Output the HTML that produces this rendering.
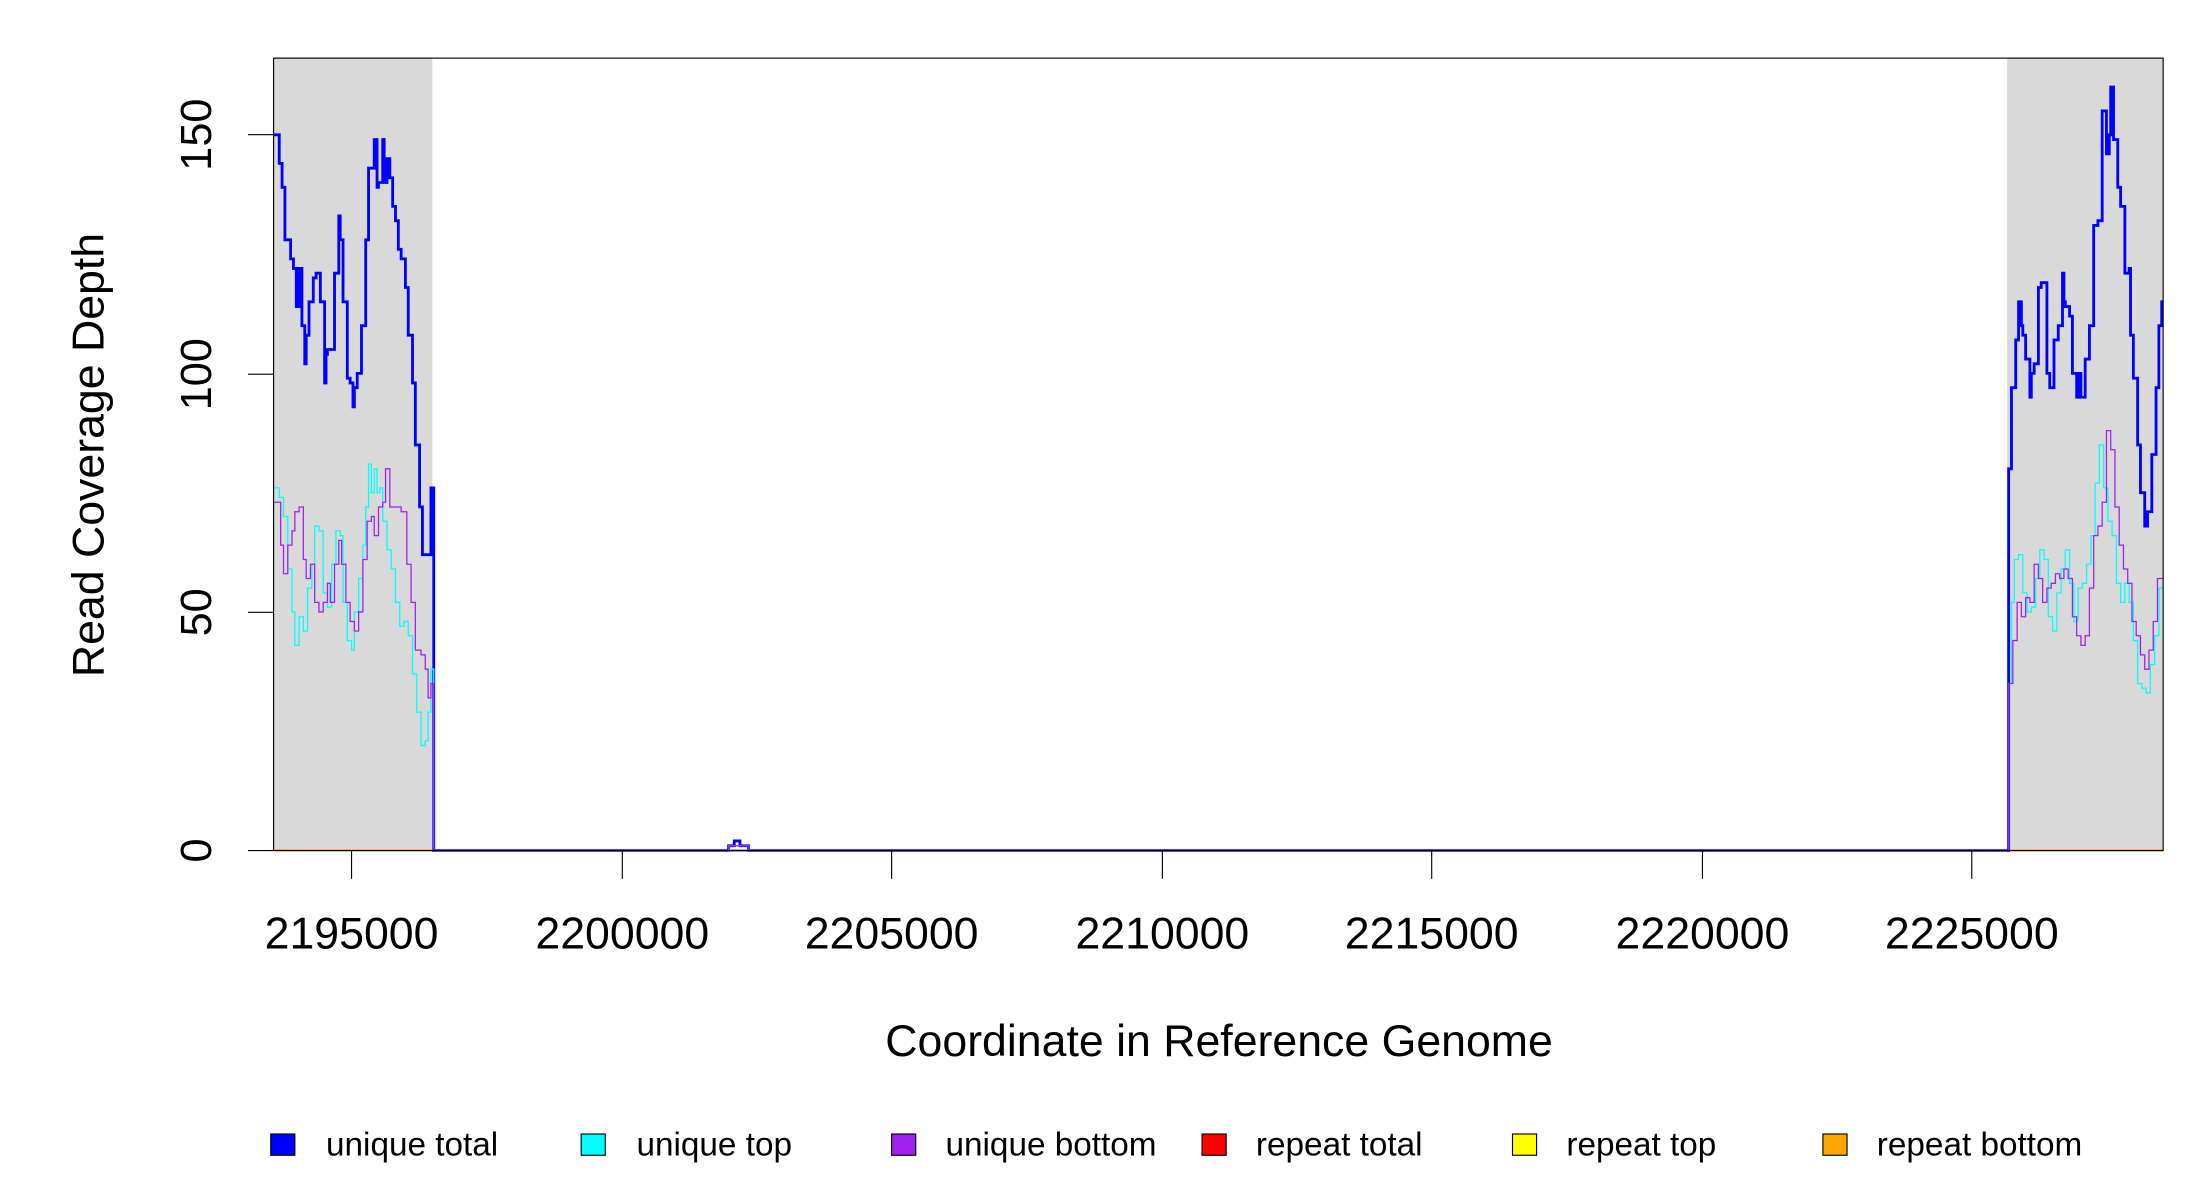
<!DOCTYPE html>
<html><head><meta charset="utf-8"><style>
html,body{margin:0;padding:0;background:#fff;width:2200px;height:1200px;overflow:hidden}
svg{display:block}
text{font-family:"Liberation Sans",sans-serif;fill:#000}
</style></head><body>
<svg id="s" width="2200" height="1200" viewBox="0 0 1552 846.55" preserveAspectRatio="none" xmlns="http://www.w3.org/2000/svg">
<rect x="193" y="41" width="112" height="559" fill="#d9d9d9"/>
<rect x="1416" y="41" width="110" height="559" fill="#d9d9d9"/>
<line x1="193" y1="600" x2="305" y2="600" stroke="#ffa500" stroke-width="1.5"/>
<line x1="1416" y1="600" x2="1526" y2="600" stroke="#ffa500" stroke-width="1.5"/>
<g id="series"></g>
<rect x="193" y="41" width="1333" height="559" fill="none" stroke="#000" stroke-width="0.8"/>
<g stroke="#000" stroke-width="0.8">
<line x1="175" y1="600" x2="193" y2="600"/><line x1="175" y1="432" x2="193" y2="432"/>
<line x1="175" y1="264" x2="193" y2="264"/><line x1="175" y1="95" x2="193" y2="95"/>
<line x1="248" y1="600" x2="248" y2="620"/><line x1="439" y1="600" x2="439" y2="620"/>
<line x1="629" y1="600" x2="629" y2="620"/><line x1="820" y1="600" x2="820" y2="620"/>
<line x1="1010" y1="600" x2="1010" y2="620"/><line x1="1201" y1="600" x2="1201" y2="620"/>
<line x1="1391" y1="600" x2="1391" y2="620"/>
</g>
<g font-size="30.5" text-anchor="middle">
<text transform="translate(149,600) rotate(-90)">0</text>
<text transform="translate(149,432) rotate(-90)">50</text>
<text transform="translate(149,264) rotate(-90)">100</text>
<text transform="translate(149,95) rotate(-90)">150</text>
</g>
<g font-size="31.5" text-anchor="middle">
<text x="248" y="669">2195000</text><text x="439" y="669">2200000</text>
<text x="629" y="669">2205000</text><text x="820" y="669">2210000</text>
<text x="1010" y="669">2215000</text><text x="1201" y="669">2220000</text>
<text x="1391" y="669">2225000</text>
</g>
<text x="860" y="745" font-size="31.5" text-anchor="middle">Coordinate in Reference Genome</text>
<text transform="translate(73,321) rotate(-90)" font-size="31.5" text-anchor="middle">Read Coverage Depth</text>
<g stroke="#000" stroke-width="0.8">
<rect x="191" y="800" width="17" height="15" fill="#0000ff"/>
<rect x="410" y="800" width="17" height="15" fill="#00ffff"/>
<rect x="629" y="800" width="17" height="15" fill="#a020f0"/>
<rect x="848" y="800" width="17" height="15" fill="#ff0000"/>
<rect x="1067" y="800" width="17" height="15" fill="#ffff00"/>
<rect x="1286" y="800" width="17" height="15" fill="#ffa500"/>
</g>
<g font-size="23.5">
<text x="230" y="815">unique total</text><text x="449" y="815">unique top</text>
<text x="667" y="815">unique bottom</text><text x="886" y="815">repeat total</text>
<text x="1105" y="815">repeat top</text><text x="1324" y="815">repeat bottom</text>
</g>
</svg>
<script>
function Y(v){return 600-v*3.366}
function step(pts){var d="M"+pts[0][0]+","+Y(pts[0][1]);for(var i=1;i<pts.length;i++){d+="H"+pts[i][0]+"V"+Y(pts[i][1]);}return d}
var blue=[[193,150],[197,144],[199,139],[201,128],[205,124],[207,122],[209,114],[210,122],[211,114],[212,122],[213,110],[215,102],[216,108],[218,115],[221,120],[223,121],[226,115],[229,98],[230,104],[231,105],[236,121],[239,133],[240,128],[242,115],[245,99],[247,98],[249,93],[250,97],[252,100],[255,110],[258,128],[260,143],[262,143],[264,149],[266,139],[267,140],[270,149],[271,140],[273,145],[275,141],[277,135],[279,132],[281,126],[283,124],[286,118],[288,108],[291,98],[293,85],[296,72],[298,62],[303,62],[304,76],[306,0],[514,1],[518,2],[522,1],[528,0],
[1416,0],[1417,80],[1419,97],[1422,107],[1424,115],[1426,110],[1427,108],[1429,103],[1432,95],[1433,100],[1435,102],[1438,118],[1440,119],[1444,100],[1446,97],[1449,107],[1452,110],[1455,121],[1456,115],[1457,114],[1460,112],[1462,100],[1465,95],[1466,100],[1468,95],[1471,103],[1474,110],[1477,131],[1480,132],[1483,155],[1486,146],[1488,150],[1489,160],[1491,149],[1494,139],[1496,135],[1499,121],[1502,122],[1503,108],[1505,99],[1508,85],[1510,75],[1513,68],[1515,71],[1518,83],[1521,97],[1523,110],[1525,115],[1526,115]];
var cyan=[[193,76],[197,74],[200,70],[203,59],[206,50],[208,43],[211,49],[214,46],[217,55],[220,60],[222,68],[225,67],[228,54],[231,51],[234,60],[237,67],[240,66],[242,52],[245,44],[248,42],[250,50],[253,57],[256,64],[258,72],[260,81],[262,75],[264,80],[266,75],[268,76],[270,69],[273,63],[276,59],[279,52],[282,47],[285,48],[288,45],[291,37],[294,29],[297,22],[300,23],[302,29],[304,38],[306,0],[514,1],[528,0],
[1416,0],[1417,35],[1419,52],[1421,61],[1424,62],[1427,54],[1430,50],[1433,51],[1436,57],[1439,63],[1442,61],[1445,49],[1448,46],[1451,54],[1454,59],[1457,63],[1460,56],[1463,48],[1466,55],[1469,56],[1472,60],[1475,66],[1478,77],[1481,85],[1484,76],[1487,69],[1490,66],[1493,56],[1496,52],[1499,56],[1502,52],[1505,44],[1508,35],[1511,34],[1514,33],[1517,39],[1520,45],[1523,55],[1526,55]];
var purple=[[193,73],[198,64],[200,58],[203,64],[206,67],[208,71],[211,72],[214,61],[216,57],[219,60],[222,52],[225,50],[228,52],[231,56],[233,52],[236,60],[239,65],[241,60],[244,52],[247,48],[250,46],[253,50],[256,61],[259,69],[262,70],[264,66],[267,72],[270,73],[272,80],[275,72],[279,72],[283,71],[287,60],[290,52],[293,42],[297,41],[300,38],[302,32],[304,35],[306,0],[514,1],[528,0],
[1416,0],[1417,35],[1420,44],[1423,52],[1426,49],[1429,53],[1432,52],[1435,60],[1438,57],[1441,52],[1444,55],[1447,56],[1450,58],[1453,57],[1456,59],[1459,57],[1462,49],[1465,45],[1468,43],[1471,45],[1474,55],[1477,66],[1480,68],[1483,73],[1486,88],[1489,84],[1492,72],[1495,64],[1498,59],[1501,56],[1504,48],[1507,45],[1510,41],[1513,38],[1516,42],[1519,48],[1522,57],[1526,57]];
var g=document.getElementById("series");
g.innerHTML='<path d="'+step(blue)+'" fill="none" stroke="#0000ff" stroke-width="2"/>'+
'<path d="'+step(cyan)+'" fill="none" stroke="#00ffff" stroke-width="0.9"/>'+
'<path d="'+step(purple)+'" fill="none" stroke="#a020f0" stroke-width="0.9"/>'+
'<line x1="306" y1="600" x2="1416" y2="600" stroke="#6a4af0" stroke-width="1.5"/>';
</script>
</body></html>
